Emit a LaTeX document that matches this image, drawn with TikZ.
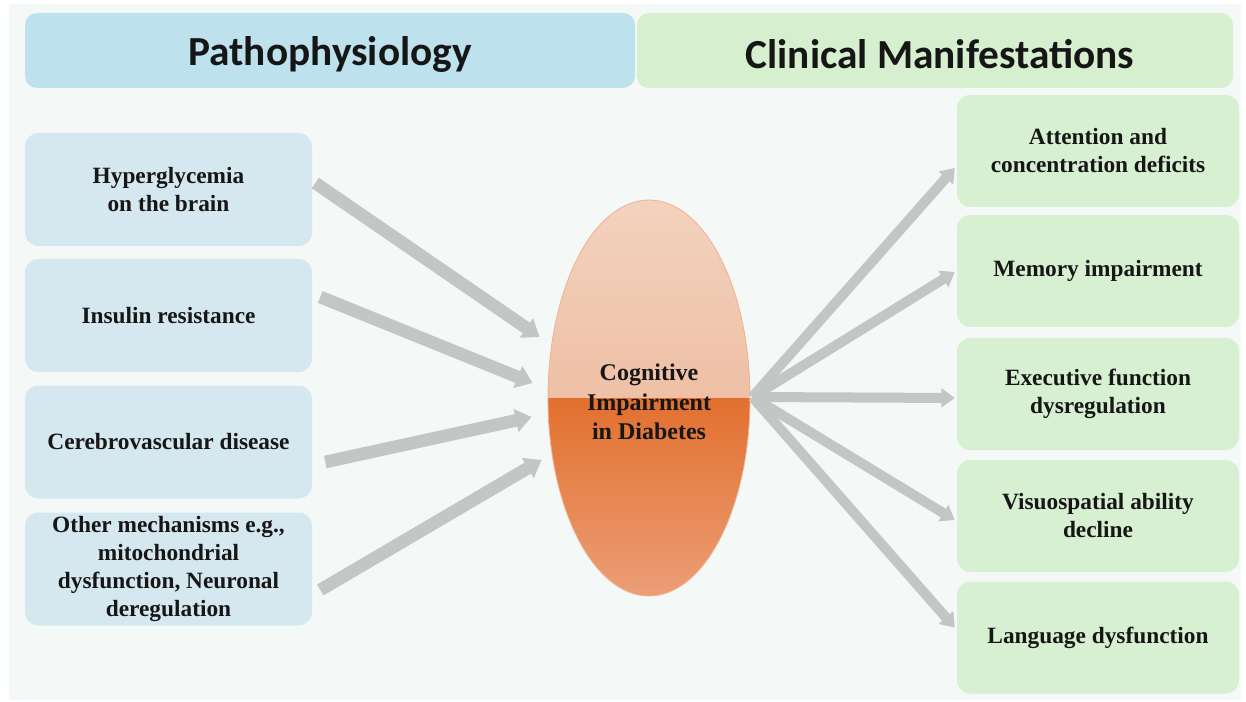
\documentclass[tikz,border=0pt]{standalone}
\usepackage{fontspec}
\setmainfont{Liberation Serif}
\newfontfamily\headfont{Carlito}
\usetikzlibrary{arrows.meta,shapes.geometric,calc}

\definecolor{pagebg}{HTML}{F4F9F7}
\definecolor{headblue}{HTML}{BDE2EE}
\definecolor{headgreen}{HTML}{D5EFCF}
\definecolor{causebox}{HTML}{D6E8EF}
\definecolor{signbox}{HTML}{D7F0D1}
\definecolor{arrowgrey}{HTML}{C2C7C6}
\definecolor{inktext}{HTML}{161616}
\definecolor{peachtop}{HTML}{F3D2BD}
\definecolor{peachmid}{HTML}{EAAE8F}
\definecolor{orangemid}{HTML}{E2702E}
\definecolor{orangebot}{HTML}{EC9E77}

\tikzset{
  header/.style={rounded corners=9pt, inner sep=0pt,
    minimum height=75*0.75pt},
  headtext/.style={text=inktext, inner sep=0pt,
    font=\headfont\fontsize{31}{34}\selectfont\bfseries},
  causebox/.style={fill=causebox, rounded corners=10pt, inner sep=0pt,
    minimum width=287*0.75pt, minimum height=113*0.75pt, align=center,
    text=inktext, font=\fontsize{17.5}{21}\selectfont\bfseries},
  signbox/.style={causebox, fill=signbox, minimum width=282*0.75pt,
    minimum height=112*0.75pt},
  inflow/.style={draw=arrowgrey, line width=9.5pt,
    -{Triangle[length=12pt,width=17pt]}},
  outflow/.style={draw=arrowgrey, line width=7.5pt,
    -{Triangle[length=10pt,width=14pt]}}
}

\begin{document}
\begin{tikzpicture}[x=0.75pt, y=-0.75pt]
\useasboundingbox (0,0) rectangle (1246,702);
\fill[white] (0,0) rectangle (1246,702);
\fill[pagebg] (9,4) rectangle (1241,700);

% column headings
\node[header, fill=headblue, minimum width=610*0.75pt] (hleft) at (330,50.5) {};
\node[header, fill=headgreen, minimum width=596*0.75pt] (hright) at (935,50.5) {};
\node[headtext] (hlefttext) at ($(hleft.center)+(0,4)$) {Pathophysiology};
\node[headtext] (hrighttext) at ($(hright.center)+(5,4)$) {Clinical Manifestations};

% causes
\node[causebox] (b1) at (168.5,189.5) {Hyperglycemia\\on the brain};
\node[causebox] (b2) at (168.5,315.5) {Insulin resistance};
\node[causebox] (b3) at (168.5,442) {Cerebrovascular disease};
\node[causebox] (b4) at (168.5,569) {Other mechanisms e.g.,\\mitochondrial\\dysfunction, Neuronal\\deregulation};

% manifestations
\node[signbox] (r1) at (1098,151) {Attention and\\concentration deficits};
\node[signbox] (r2) at (1098,271) {Memory impairment};
\node[signbox] (r3) at (1098,394) {Executive function\\dysregulation};
\node[signbox] (r4) at (1098,516) {Visuospatial ability\\decline};
\node[signbox] (r5) at (1098,637.5) {Language dysfunction};

% central ellipse, light upper half and deep orange lower half
\node[ellipse, minimum width=202*0.75pt, minimum height=396*0.75pt, inner sep=0pt,
  draw=orangebot!80!white, line width=0.6pt,
  path picture={
    \shade[top color=peachtop, bottom color=peachmid]
      (path picture bounding box.north west) rectangle (path picture bounding box.east);
    \shade[top color=orangemid, bottom color=orangebot]
      (path picture bounding box.west) rectangle (path picture bounding box.south east);
  }] (ell) at (649,398) {};
\node[align=center, text=inktext, font=\fontsize{18}{22}\selectfont\bfseries]
  (elltext) at (649,402) {Cognitive\\Impairment\\in Diabetes};

% arrows into the ellipse
\draw[inflow] ($(b1.east)+(3,-6.5)$) -- ($(ell.west)+(-8,-61)$);
\draw[inflow] ($(b2.east)+(8,-18.5)$) -- ($(ell.west)+(-15,-15)$);
\draw[inflow] ($(b3.east)+(13,20)$) -- ($(ell.west)+(-16,19)$);
\draw[inflow] ($(b4.east)+(8,21)$) -- ($(ell.west)+(-6,62)$);

% arrows out to the manifestations
\draw[outflow] ($(ell.east)+(2,-1)$) -- ($(r1.west)+(-2,17)$);
\draw[outflow] ($(ell.east)+(2,-1)$) -- ($(r2.west)+(-2,1)$);
\draw[outflow] ($(ell.east)+(2,-1)$) -- ($(r3.west)+(-2,4)$);
\draw[outflow] ($(ell.east)+(2,-1)$) -- ($(r4.west)+(-2,4)$);
\draw[outflow] ($(ell.east)+(2,-1)$) -- ($(r5.west)+(-2,-10)$);
\end{tikzpicture}
\end{document}
